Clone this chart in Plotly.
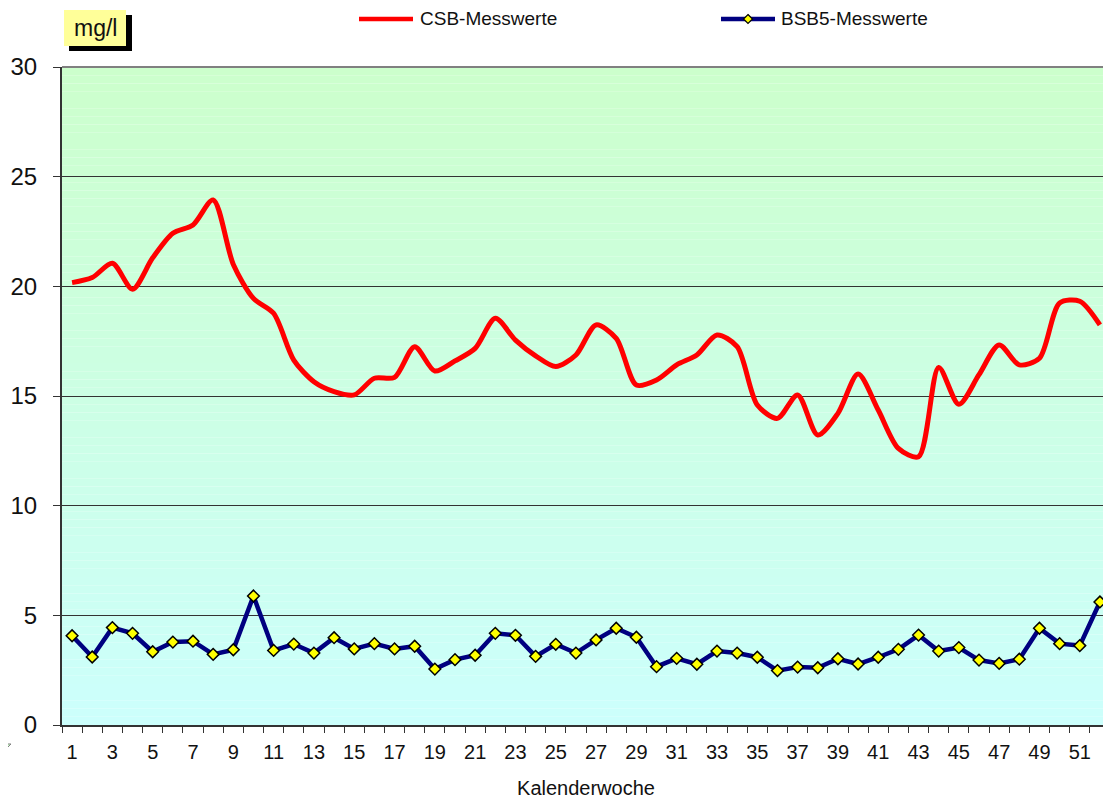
import plotly.graph_objects as go

weeks = list(range(1, 53))

csb = [20.17, 20.4, 21.05, 19.87, 21.3, 22.42, 22.8, 23.94, 21.0, 19.45,
       18.77, 16.64, 15.65, 15.2, 15.05, 15.81, 15.85, 17.25, 16.14, 16.6,
       17.17, 18.54, 17.55, 16.83, 16.34, 16.87, 18.24, 17.63, 15.5, 15.73,
       16.42, 16.87, 17.78, 17.25, 14.59, 13.98, 15.05, 13.22, 14.21, 16.0,
       14.36, 12.61, 12.23, 16.3, 14.62, 15.97, 17.33, 16.42, 16.72, 19.24,
       19.32, 18.24]

bsb5 = [4.07, 3.10, 4.44, 4.18, 3.34, 3.78, 3.82, 3.22, 3.43, 5.88,
        3.40, 3.69, 3.28, 3.98, 3.47, 3.71, 3.47, 3.59, 2.55, 2.98,
        3.18, 4.18, 4.09, 3.13, 3.68, 3.28, 3.88, 4.41, 4.00, 2.66,
        3.04, 2.77, 3.37, 3.28, 3.09, 2.48, 2.64, 2.61, 3.02, 2.78,
        3.09, 3.45, 4.10, 3.37, 3.53, 2.96, 2.81, 3.00, 4.41, 3.71,
        3.62, 5.61]

series_names = ["CSB-Messwerte", "BSB5-Messwerte"]
x_ticks = list(range(1, 53, 2))
y_ticks = [0, 5, 10, 15, 20, 25, 30]

# figure is placed 8px from the page corner by the default body margin
OFF = 8
W, H = 1111 - OFF, 801 - OFF
PL, PR, PT, PB = 62, 1110, 67, 725          # plot area in page pixels
L, R, T, B = PL - OFF, W - (PR - OFF), PT - OFF, H - (PB - OFF)


def px(x):
    return (x - PL) / (PR - PL)


def py(y):
    return (PB - y) / (PB - PT)


FONT = "Arial, Liberation Sans, sans-serif"
RED = "#FF0000"
NAVY = "#000080"

fig = go.Figure()

fig.add_trace(go.Scatter(
    x=weeks, y=csb, name=series_names[0], mode="lines",
    line=dict(color=RED, width=5, shape="spline", smoothing=0.8),
    showlegend=False,
))
fig.add_trace(go.Scatter(
    x=weeks, y=bsb5, name=series_names[1], mode="lines+markers",
    line=dict(color=NAVY, width=4.5),
    marker=dict(symbol="diamond", size=9, color="#FFFF00",
                line=dict(color="#000000", width=1.5)),
    showlegend=False,
))

shapes = []
# vertical gradient background
n = 80
top = (204, 255, 204)
bot = (204, 255, 252)
for i in range(n):
    t = i / (n - 1)
    c = tuple(round(top[k] + (bot[k] - top[k]) * t) for k in range(3))
    shapes.append(dict(type="rect", xref="paper", yref="paper",
                       x0=0, x1=1, y0=1 - (i + 1) / n, y1=1 - i / n,
                       fillcolor="rgb(%d,%d,%d)" % c, line=dict(width=0),
                       layer="below"))
# gray top and right border
shapes.append(dict(type="line", xref="paper", yref="paper", x0=0, x1=1, y0=1, y1=1,
                   line=dict(color="#808080", width=2), layer="above"))
shapes.append(dict(type="line", xref="paper", yref="paper", x0=1, x1=1, y0=0, y1=1,
                   line=dict(color="#808080", width=2), layer="above"))
# mg/l box shadow and box
shapes.append(dict(type="rect", xref="paper", yref="paper",
                   x0=px(69), x1=px(132), y0=py(51), y1=py(15),
                   fillcolor="#000000", line=dict(width=0)))
shapes.append(dict(type="rect", xref="paper", yref="paper",
                   x0=px(64), x1=px(126), y0=py(46), y1=py(10),
                   fillcolor="#FFFF99", line=dict(width=0)))
# small triangle bottom-left
shapes.append(dict(type="path", xref="paper", yref="paper",
                   path="M %f,%f L %f,%f L %f,%f Z" % (px(0), py(744), px(11), py(744), px(1), py(754)),
                   fillcolor="#CCFFCC", line=dict(color="#808080", width=1)))
# legend keys
ly = py(19)
shapes.append(dict(type="line", xref="paper", yref="paper", x0=px(359), x1=px(413), y0=ly, y1=ly,
                   line=dict(color=RED, width=4.5)))
shapes.append(dict(type="line", xref="paper", yref="paper", x0=px(721), x1=px(775), y0=ly, y1=ly,
                   line=dict(color=NAVY, width=4.5)))
shapes.append(dict(type="path", xref="paper", yref="paper",
                   path="M %f,%f L %f,%f L %f,%f L %f,%f Z" % (
                       px(748), py(14.5), px(752.5), py(19), px(748), py(23.5), px(743.5), py(19)),
                   fillcolor="#FFFF00", line=dict(color="#000000", width=1.2)))

annotations = [
    dict(text="mg/l", xref="paper", yref="paper", x=px(95), y=py(28),
         showarrow=False, font=dict(size=23, color="#111111", family=FONT),
         xanchor="center", yanchor="middle"),
    dict(text=series_names[0], xref="paper", yref="paper", x=px(418), y=ly,
         showarrow=False, font=dict(size=19, color="#111111", family=FONT),
         xanchor="left", yanchor="middle"),
    dict(text=series_names[1], xref="paper", yref="paper", x=px(779), y=ly,
         showarrow=False, font=dict(size=19, color="#111111", family=FONT),
         xanchor="left", yanchor="middle"),
]

fig.update_layout(
    width=W, height=H,
    margin=dict(l=L, r=R, t=T, b=B),
    paper_bgcolor="white",
    plot_bgcolor="rgba(0,0,0,0)",
    font=dict(family=FONT, color="#111111"),
    shapes=shapes,
    annotations=annotations,
    showlegend=False,
)

fig.update_xaxes(
    range=[0.5, 52.5], tickvals=x_ticks, ticktext=[str(v) for v in x_ticks],
    ticks="", tickfont=dict(size=20), showgrid=False, zeroline=False,
    showline=True, linecolor="#333333", linewidth=2, ticklabelstandoff=8,
    minor=dict(ticks="outside", ticklen=6, tick0=0.5, dtick=1, tickcolor="#333333",
               tickwidth=1, showgrid=False),
    title=dict(text="Kalenderwoche", font=dict(size=20), standoff=19),
)
fig.update_yaxes(
    range=[0, 30], tickvals=y_ticks, ticks="outside", ticklen=7, tickcolor="#333333",
    tickfont=dict(size=24), showgrid=True, gridcolor="#333333", gridwidth=1,
    zeroline=False, showline=True, linecolor="#333333", linewidth=2,
    ticklabelstandoff=11,
)

fig.write_html("out.html")
